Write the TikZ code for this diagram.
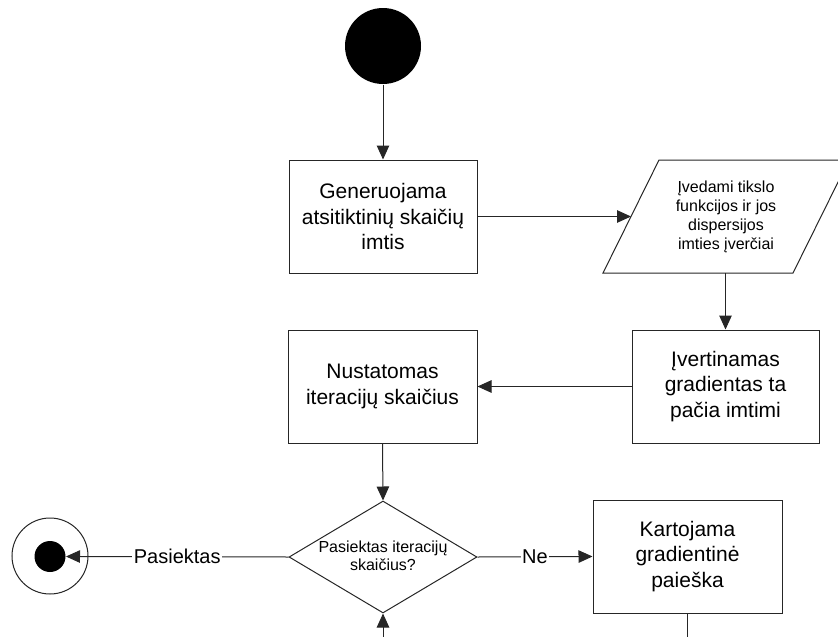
\documentclass[tikz,border=0pt]{standalone}
\usepackage{fontspec}
\setmainfont{Liberation Sans}
\usetikzlibrary{arrows.meta,shapes.geometric}
\begin{document}
\begin{tikzpicture}[x=1pt, y=-1pt, line width=1pt,
  box/.style={draw=black!85, fill=white, minimum height=113pt, align=center,
    inner sep=0pt, font=\fontsize{21}{25.5}\selectfont},
  smalltext/.style={align=center, inner sep=0pt, font=\fontsize{16}{19}\selectfont},
  flow/.style={draw=black!85, -{Triangle[length=14pt,width=12.5pt]}},
  plain/.style={draw=black!85},
  lbl/.style={fill=white, inner sep=1.5pt, font=\fontsize{20}{24}\selectfont}]
\clip (0,0) rectangle (838,637);

% initial node
\node[circle, fill=black, minimum size=76pt, inner sep=0pt] (start) at (383,46) {};

% process boxes
\node[box, minimum width=188pt] (gen) at (383,216.5) {Generuojama\\atsitiktinių skaičių\\imtis};
\node[box, minimum width=187pt] (est) at (725.5,386.5) {Įvertinamas\\gradientas ta\\pačia imtimi};
\node[box, minimum width=189pt] (iter) at (382.5,386.5) {Nustatomas\\iteracijų skaičius};
\node[box, minimum width=189pt] (rep) at (687.5,556.5) {Kartojama\\gradientinė\\paieška};

% input (parallelogram)
\draw[draw=black!85] (659,160) -- (849,160) -- (793,273) -- (603,273) -- cycle;
\node[smalltext] (inp) at (726,216.5) {Įvedami tikslo\\funkcijos ir jos\\dispersijos\\imties įverčiai};
\coordinate (inpW) at (631,216.5);
\coordinate (inpS) at (725.5,273);

% decision
\node[diamond, draw=black!85, minimum width=188pt, minimum height=112pt, inner sep=0pt] (dec) at (383,557) {};
\node[smalltext, font=\fontsize{16}{18}\selectfont] (dectext) at (383,556) {Pasiektas iteracijų\\skaičius?};

% final node
\node[circle, draw=black!85, minimum size=76pt, inner sep=0pt] (stop) at (50,556) {};
\node[circle, fill=black, minimum size=31pt, inner sep=0pt] (stopdot) at (50,556.5) {};

% loose ends at the bottom edge
\coordinate (loopin) at (383,645);
\coordinate (repout) at (687.5,645);

% connectors
\draw[flow] (start) -- (gen);
\draw[flow] (gen.east) -- (inpW);
\draw[flow] (inpS) -- (est.north);
\draw[flow] (est.west) -- (iter.east);
\draw[flow] (iter.south) -- (dec.north);
\draw[flow] (dec.west) -- node[lbl] {Pasiektas} (stopdot.east);
\draw[flow] (dec.east) -- node[lbl] {Ne} (rep.west);
\draw[plain] (rep.south) -- (repout);
\draw[flow] (loopin) -- (dec.south);
\end{tikzpicture}
\end{document}
